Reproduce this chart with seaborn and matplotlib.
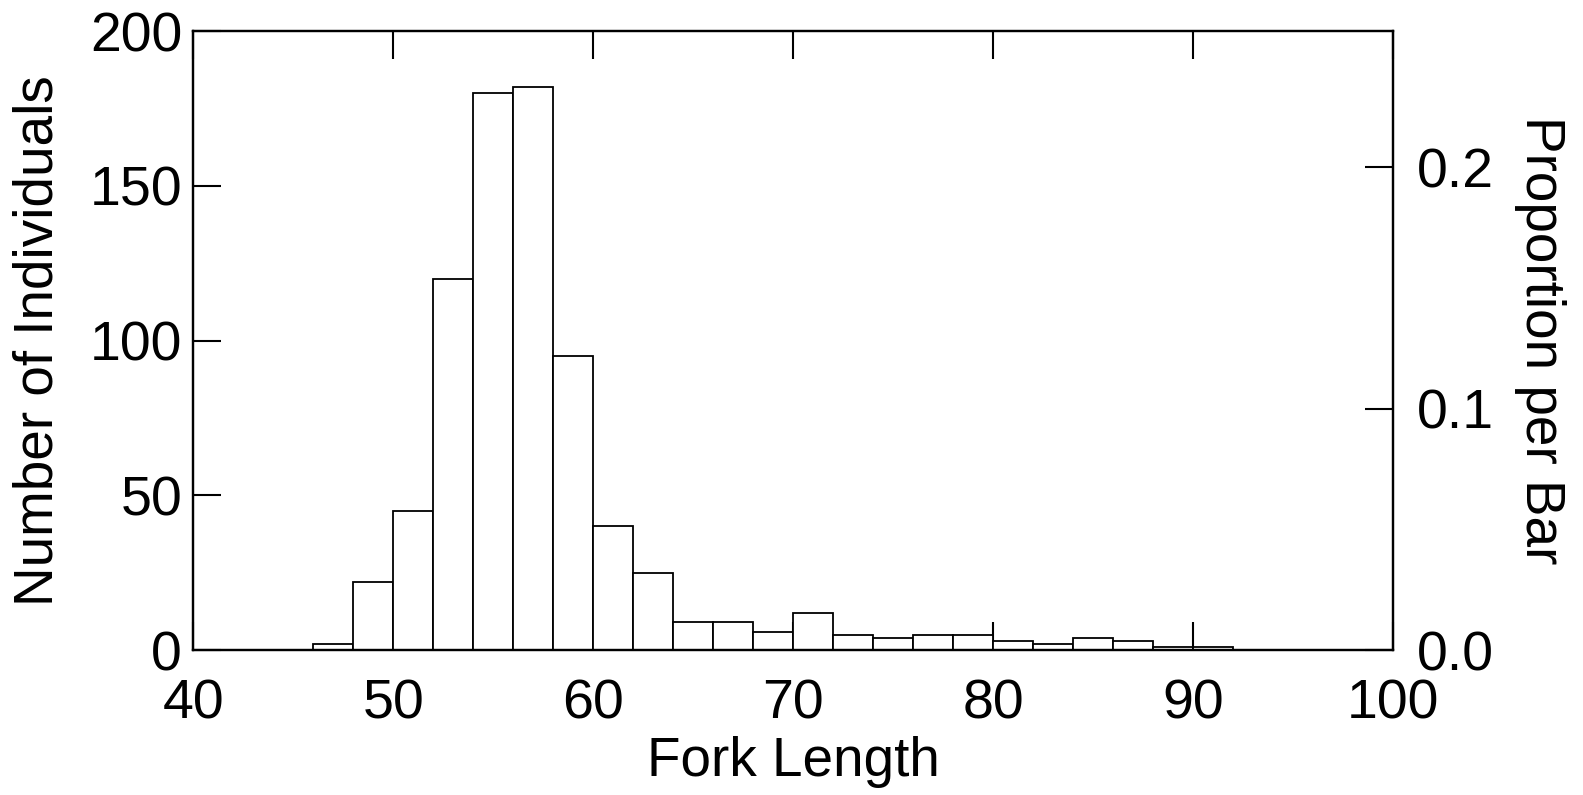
import matplotlib
matplotlib.use("Agg")
import matplotlib.pyplot as plt
import numpy as np
import seaborn as sns
from matplotlib.ticker import FormatStrFormatter

# histogram bins (fork length) and counts
bin_edges = [40, 42, 44, 46, 48, 50, 52, 54, 56, 58, 60, 62, 64, 66, 68, 70,
             72, 74, 76, 78, 80, 82, 84, 86, 88, 90, 92, 94, 96, 98, 100]
counts = [0, 0, 0, 2, 22, 45, 120, 180, 182, 95, 40, 25, 9, 9, 6, 12,
          5, 4, 5, 5, 3, 2, 4, 3, 1, 1, 0, 0, 0, 0]

x_ticks = [40, 50, 60, 70, 80, 90, 100]
y_ticks = [0, 50, 100, 150, 200]
prop_ticks = [0.0, 0.1, 0.2]

sns.set_style("white")
plt.rcParams["font.family"] = ["Liberation Sans", "DejaVu Sans"]
plt.rcParams["text.color"] = "black"
plt.rcParams["axes.labelcolor"] = "black"
plt.rcParams["xtick.color"] = "black"
plt.rcParams["ytick.color"] = "black"

centers = [(a + b) / 2 for a, b in zip(bin_edges[:-1], bin_edges[1:])]
total = sum(counts)

fig = plt.figure(figsize=(15.83, 7.95), dpi=100)
ax = fig.add_axes([0.122, 0.182, 0.758, 0.779])

sns.histplot(x=centers, weights=counts, bins=bin_edges, ax=ax,
             color="white", edgecolor="black", linewidth=1.3, alpha=1)

ax.set_xlim(40, 100)
ax.set_ylim(0, 200)
ax.set_xticks(x_ticks)
ax.set_yticks(y_ticks)
ax.set_xlabel("Fork Length", fontsize=39.5, labelpad=4)
ax.set_ylabel("Number of Individuals", fontsize=39.5, labelpad=18)
ax.tick_params(axis="both", which="both", direction="in", length=20,
               width=1.5, labelsize=40, top=True, bottom=True, left=True,
               right=False, colors="black")
ax.tick_params(axis="x", pad=20)
ax.tick_params(axis="y", pad=8)
for s in ax.spines.values():
    s.set_linewidth(1.6)
    s.set_color("black")

ax2 = ax.twinx()
ax2.set_ylim(0, 200 / total)
ax2.set_yticks(prop_ticks)
ax2.yaxis.set_major_formatter(FormatStrFormatter("%.1f"))
ax2.tick_params(axis="y", direction="in", length=20, width=1.5,
                labelsize=40, pad=17, colors="black")
ax2.set_ylabel("Proportion per Bar", fontsize=39.5, rotation=270, labelpad=52)
for s in ax2.spines.values():
    s.set_linewidth(1.6)
    s.set_color("black")

fig.savefig("out.png", dpi=100, facecolor="white")
